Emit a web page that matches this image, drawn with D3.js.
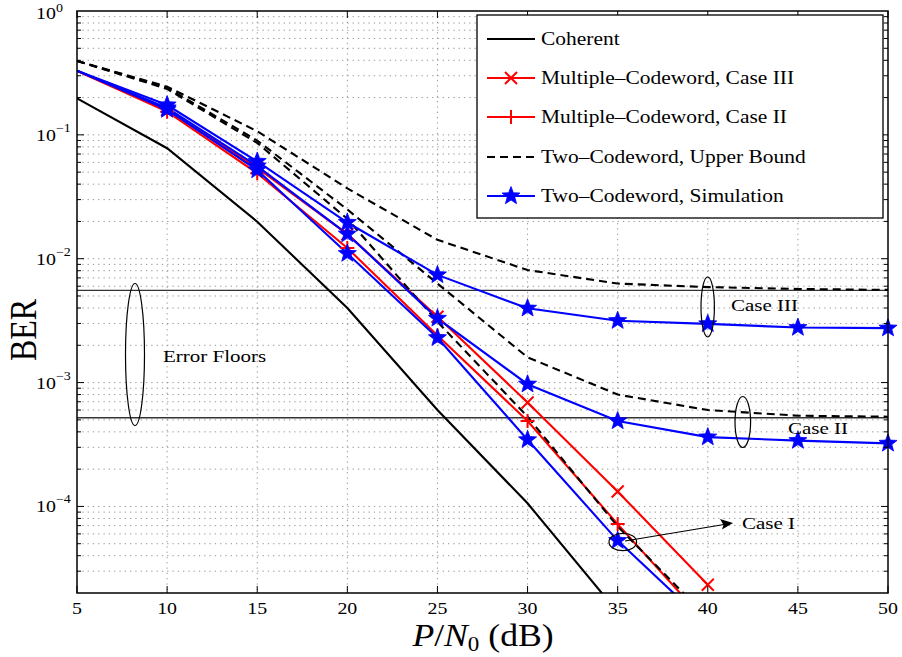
<!DOCTYPE html>
<html><head><meta charset="utf-8">
<script src="https://cdn.jsdelivr.net/npm/d3@7"></script>
<style>body{margin:0;background:#fff}text{font-family:"Liberation Serif","Times New Roman",serif;fill:#000}</style>
</head><body><svg id="c" width="902" height="657"></svg>
<script>
// ---- data ----
const snr = [5, 10, 15, 20, 25, 30, 35, 40, 45, 50];
const coherent = [0.197, 0.078, 0.0199, 0.0040, 6.0e-4, 1.06e-4, 1.4e-5];
const mcCaseIII = [0.328, 0.159, 0.054, 0.0158, 0.0034, 6.9e-4, 1.32e-4, 2.33e-5];
const mcCaseII = [0.328, 0.154, 0.049, 0.0122, 0.0024, 4.9e-4, 7.2e-5, 1.13e-5];
const ubCaseIII = [0.395, 0.245, 0.107, 0.037, 0.0142, 0.0081, 0.0063, 0.0059, 0.0057, 0.0056];
const ubCaseII = [0.395, 0.24, 0.09, 0.025, 0.0063, 0.0016, 8.0e-4, 6.0e-4, 5.4e-4, 5.3e-4];
const ubCaseI = [0.395, 0.235, 0.086, 0.021, 0.0031, 5.3e-4, 6.9e-5, 1.26e-5];
const simCaseIII = [0.33, 0.174, 0.061, 0.0196, 0.0074, 0.00398, 0.00316, 0.00298, 0.00278, 0.00275];
const simCaseII = [0.33, 0.165, 0.056, 0.0158, 0.0033, 9.7e-4, 4.9e-4, 3.63e-4, 3.4e-4, 3.23e-4];
const simCaseI = [0.33, 0.16, 0.052, 0.011, 0.0023, 3.45e-4, 5.3e-5, 1.1e-5];
const errorFloors = [5.55e-3, 5.2e-4];
const xTicks = [5, 10, 15, 20, 25, 30, 35, 40, 45, 50];
const yTickExps = [0, -1, -2, -3, -4];
const legendLabels = ["Coherent", "Multiple\u2013Codeword, Case III", "Multiple\u2013Codeword, Case II", "Two\u2013Codeword, Upper Bound", "Two\u2013Codeword, Simulation"];

// ---- setup ----
const svg = d3.select("#c");
const X0 = 77, X1 = 888, Y0 = 11, Y1 = 593;
const x = d3.scaleLinear().domain([5, 50]).range([X0, X1]);
const y = d3.scaleLog().domain([2e-5, 1]).range([Y1, Y0]);
const SX = 1.17;

function stxt(parent, px, py, size, anchor, sx) {
  const g = parent.append("g").attr("transform", `translate(${px},${py}) scale(${sx || SX},1)`);
  return g.append("text").attr("font-size", size).attr("text-anchor", anchor || "start");
}

svg.append("defs").append("clipPath").attr("id", "clip")
  .append("rect").attr("x", X0).attr("y", Y0).attr("width", X1 - X0).attr("height", Y1 - Y0);

// grid
const grid = svg.append("g").attr("stroke", "#8a8a8a").attr("stroke-width", 0.9).attr("stroke-dasharray", "1.3,4");
xTicks.slice(1, -1).forEach(t => grid.append("line").attr("x1", x(t)).attr("x2", x(t)).attr("y1", Y0).attr("y2", Y1));
const yMinor = [];
for (let e = -5; e <= 0; e++) for (let m = 1; m <= 9; m++) {
  const v = m * Math.pow(10, e);
  if (v > 2.0001e-5 && v < 0.9999) yMinor.push(v);
}
yMinor.forEach(v => grid.append("line").attr("x1", X0).attr("x2", X1).attr("y1", y(v)).attr("y2", y(v)));

// error floor lines
errorFloors.forEach(v => svg.append("line").attr("x1", X0).attr("x2", X1).attr("y1", y(v)).attr("y2", y(v))
  .attr("stroke", "#333").attr("stroke-width", 1.3));

// series
const line = d3.line().x(d => x(d[0])).y(d => y(d[1]));
const plot = svg.append("g").attr("clip-path", "url(#clip)");
function pts(arr) { return arr.map((v, i) => [snr[i], v]); }
const series = [
  { d: coherent, c: "#000", dash: null, m: null },
  { d: mcCaseIII, c: "#f00", dash: null, m: "x" },
  { d: mcCaseII, c: "#f00", dash: null, m: "+" },
  { d: ubCaseIII, c: "#000", dash: "8,5", m: null },
  { d: ubCaseII, c: "#000", dash: "8,5", m: null },
  { d: ubCaseI, c: "#000", dash: "8,5", m: null },
  { d: simCaseIII, c: "#00f", dash: null, m: "star" },
  { d: simCaseII, c: "#00f", dash: null, m: "star" },
  { d: simCaseI, c: "#00f", dash: null, m: "star" }
];

function starPath(r1, r2) {
  let p = "";
  for (let i = 0; i < 10; i++) {
    const r = i % 2 === 0 ? r1 : r2;
    const a = -Math.PI / 2 + i * Math.PI / 5;
    p += (i === 0 ? "M" : "L") + (r * Math.cos(a)).toFixed(2) + "," + (r * Math.sin(a)).toFixed(2);
  }
  return p + "Z";
}
function marker(g, type, cx, cy, color) {
  if (type === "x") {
    const s = 6;
    g.append("path").attr("d", `M${cx - s},${cy - s}L${cx + s},${cy + s}M${cx - s},${cy + s}L${cx + s},${cy - s}`)
      .attr("stroke", color).attr("stroke-width", 2).attr("fill", "none");
  } else if (type === "+") {
    const s = 7;
    g.append("path").attr("d", `M${cx - s},${cy}L${cx + s},${cy}M${cx},${cy - s}L${cx},${cy + s}`)
      .attr("stroke", color).attr("stroke-width", 2).attr("fill", "none");
  } else if (type === "star") {
    g.append("path").attr("d", starPath(9.5, 4)).attr("transform", `translate(${cx},${cy})`)
      .attr("fill", color).attr("stroke", color).attr("stroke-width", 0.8);
  }
}

const markG = svg.append("g");
series.forEach(s => {
  const p = pts(s.d);
  plot.append("path").attr("d", line(p)).attr("fill", "none").attr("stroke", s.c)
    .attr("stroke-width", 2.1).attr("stroke-dasharray", s.dash);
  if (s.m) {
    p.forEach(q => {
      if (q[0] >= 10 && q[1] >= 2e-5) marker(markG, s.m, x(q[0]), y(q[1]), s.c);
    });
  }
});

// axes box and ticks
const ax = svg.append("g").attr("stroke", "#000").attr("fill", "none");
ax.append("rect").attr("x", X0).attr("y", Y0).attr("width", X1 - X0).attr("height", Y1 - Y0).attr("stroke-width", 1.5);
xTicks.forEach(t => {
  ax.append("line").attr("x1", x(t)).attr("x2", x(t)).attr("y1", Y1).attr("y2", Y1 - 7);
  ax.append("line").attr("x1", x(t)).attr("x2", x(t)).attr("y1", Y0).attr("y2", Y0 + 7);
});
yMinor.forEach(v => {
  const major = Math.abs(Math.log10(v) - Math.round(Math.log10(v))) < 1e-6;
  const L = major ? 7 : 4;
  ax.append("line").attr("x1", X0).attr("x2", X0 + L).attr("y1", y(v)).attr("y2", y(v));
  ax.append("line").attr("x1", X1).attr("x2", X1 - L).attr("y1", y(v)).attr("y2", y(v));
});

// tick labels
xTicks.forEach(t => stxt(svg, x(t), 614, 17, "middle").text(t));
yTickExps.forEach(e => {
  const t = stxt(svg, 36, y(Math.pow(10, e)) + (e === 0 ? 8 : 6), 17, "start");
  t.append("tspan").text("10");
  t.append("tspan").attr("dy", e === 0 ? -7 : -9).attr("font-size", 12).text(e === 0 ? "0" : "\u2212" + (-e));
});

// axis labels
const bl = svg.append("g").attr("transform", `translate(36,330) scale(1.2,1) rotate(-90)`);
bl.append("text").attr("font-size", 32).attr("text-anchor", "middle").text("BER");
const xl = stxt(svg, 483, 646, 31, "middle", 1.15);
xl.append("tspan").attr("font-style", "italic").text("P");
xl.append("tspan").text("/");
xl.append("tspan").attr("font-style", "italic").text("N");
xl.append("tspan").attr("font-size", 20).attr("dy", 5).text("0");
xl.append("tspan").attr("dy", -5).text(" (dB)");

// legend
const lg = svg.append("g");
lg.append("rect").attr("x", 477).attr("y", 15).attr("width", 406).attr("height", 203)
  .attr("fill", "#fff").attr("stroke", "#000").attr("stroke-width", 1.3);
const legSeries = [series[0], series[1], series[2], series[3], series[6]];
const legY = [39, 78, 117, 157, 196];
legSeries.forEach((s, i) => {
  lg.append("line").attr("x1", 487).attr("x2", 535).attr("y1", legY[i]).attr("y2", legY[i])
    .attr("stroke", s.c).attr("stroke-width", 2).attr("stroke-dasharray", s.dash);
  if (s.m) marker(lg, s.m, 511, legY[i], s.c);
  stxt(lg, 541, legY[i] + 6, 18.5, "start", 1.16).text(legendLabels[i]);
});

// annotations
const an = svg.append("g").attr("fill", "none").attr("stroke", "#000").attr("stroke-width", 1.2);
an.append("ellipse").attr("cx", 135).attr("cy", 354.5).attr("rx", 9.5).attr("ry", 71);
an.append("ellipse").attr("cx", 707.7).attr("cy", 307).attr("rx", 6.7).attr("ry", 30);
an.append("ellipse").attr("cx", 742.8).attr("cy", 422).attr("rx", 7.8).attr("ry", 25.5);
an.append("ellipse").attr("cx", 622.8).attr("cy", 542).attr("rx", 13.8).attr("ry", 8.7);
an.append("line").attr("x1", 625).attr("y1", 541).attr("x2", 724).attr("y2", 524.5);
svg.append("path").attr("d", "M733,523 L720,519 L723.5,525 L722,529.5 Z").attr("fill", "#000");

stxt(svg, 163, 362, 17.5, "start", 1.2).text("Error Floors");
stxt(svg, 731, 311, 17.5, "start", 1.2).text("Case III");
stxt(svg, 788, 434, 17.5, "start", 1.2).text("Case II");
stxt(svg, 742, 529, 17.5, "start", 1.2).text("Case I");
</script></body></html>
